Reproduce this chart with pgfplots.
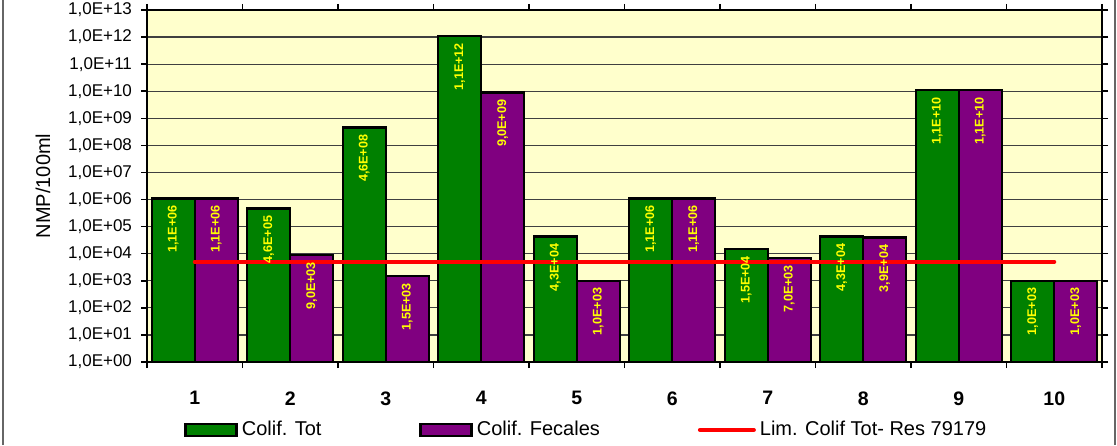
\documentclass[border=0pt]{standalone}
\usepackage{pgfplots}
\pgfplotsset{compat=1.18}
\usepackage{pgfplotstable}
\usepackage{fontspec}
\setmainfont{Liberation Sans}
\definecolor{cgreen}{HTML}{008000}
\definecolor{cpurple}{HTML}{800080}
\definecolor{cbg}{HTML}{FFFFCC}
\definecolor{cyel}{HTML}{FFFF00}
\definecolor{cred}{HTML}{FF0000}

\pgfplotsset{
  barleg/.style={legend image code/.code={\draw[##1] (0pt,-3pt) rectangle (25.5pt,3pt);}},
  lineleg/.style={legend image code/.code={\draw[##1] (0pt,0pt) -- (27pt,0pt);}},
  barlabs/.style={point meta=explicit symbolic, nodes near coords,
    every node near coord/.append style={rotate=90, anchor=east, inner sep=3pt, text=cyel,
      font=\bfseries\fontsize{6.3}{7}\selectfont}},
}

\pgfplotstableread{
x y lab
1 1.1e6 1,1E+06
2 4.6e5 4,6E+05
3 4.6e8 4,6E+08
4 1.1e12 1,1E+12
5 4.3e4 4,3E+04
6 1.1e6 1,1E+06
7 1.5e4 1,5E+04
8 4.3e4 4,3E+04
9 1.1e10 1,1E+10
10 1.0e3 1,0E+03
}\tot

\pgfplotstableread{
x y lab
1 1.1e6 1,1E+06
2 9.0e3 9,0E+03
3 1.5e3 1,5E+03
4 9.0e9 9,0E+09
5 1.0e3 1,0E+03
6 1.1e6 1,1E+06
7 7.0e3 7,0E+03
8 3.9e4 3,9E+04
9 1.1e10 1,1E+10
10 1.0e3 1,0E+03
}\fec

\begin{document}
\begin{tikzpicture}
\useasboundingbox (0,0) rectangle (558.5pt,222.5pt);
\draw[black!60, line width=0.6pt] (1.5pt,0) -- (1.5pt,222.5pt);
\draw[black!60, line width=0.6pt] (557.5pt,0) -- (557.5pt,222.5pt);
\begin{axis}[
  at={(73.5pt,41.5pt)}, anchor=south west,
  scale only axis, width=477.5pt, height=176pt,
  ymode=log, ymin=1, ymax=1e13, xmin=0.5, xmax=10.5,
  axis background/.style={fill=cbg},
  axis line style={black, line width=1.2pt},
  ybar, bar width=21.5pt,
  ytick={1,10,100,1000,1e4,1e5,1e6,1e7,1e8,1e9,1e10,1e11,1e12,1e13},
  yticklabels={{1,0E+00},{1,0E+01},{1,0E+02},{1,0E+03},{1,0E+04},{1,0E+05},{1,0E+06},{1,0E+07},{1,0E+08},{1,0E+09},{1,0E+10},{1,0E+11},{1,0E+12},{1,0E+13}},
  yminorticks=false,
  ymajorgrids, grid style={black!75, line width=0.6pt},
  tick align=outside, major tick length=3pt,
  tick style={black, line width=0.8pt},
  yticklabel style={font=\fontsize{8.5}{10}\selectfont, xshift=-1pt},
  xtick={0.5,1.5,...,10.5}, xticklabels={},
  extra x ticks={1,2,3,4,5,6,7,8,9,10},
  extra x tick labels={1,2,3,4,5,6,7,8,9,10},
  extra x tick style={tick style={draw=none}, grid=none},
  xticklabel style={font=\bfseries\fontsize{9.75}{11}\selectfont, yshift=-8.2pt},
  ylabel={NMP/100ml},
  ylabel style={at={(axis description cs:-0.109,0.5)}, anchor=center, font=\fontsize{10}{12}\selectfont},
  legend style={draw=none, fill=none, at={(axis description cs:0.0325,-0.193)}, anchor=west,
    font=\fontsize{10}{12}\selectfont, /tikz/every even column/.append style={column sep=47pt}},
  legend columns=3, legend cell align=left,
]
\addplot[fill=cgreen, draw=black, line width=1.2pt, bar shift=-10.75pt, barlabs, barleg]
  table[x=x, y=y, meta=lab] {\tot};
\addlegendentry{Colif. Tot}
\addplot[fill=cpurple, draw=black, line width=1.2pt, bar shift=10.75pt, barlabs, barleg]
  table[x=x, y=y, meta=lab] {\fec};
\addlegendentry{Colif. Fecales}
\addplot[sharp plot, draw=cred, line width=2pt, line cap=round, lineleg]
  coordinates {(1,5000) (10,5000)};
\addlegendentry{Lim. Colif Tot- Res 79179}
\end{axis}
\end{tikzpicture}
\end{document}
